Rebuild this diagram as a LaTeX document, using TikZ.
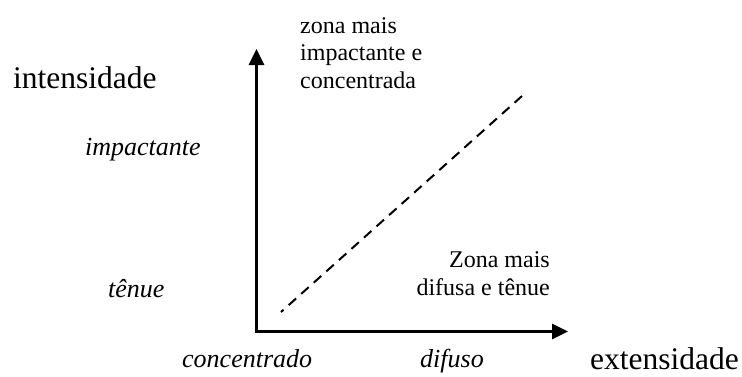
\documentclass[tikz,border=0pt]{standalone}
\usepackage{fontspec}
\setmainfont{Liberation Serif}
\usetikzlibrary{arrows.meta}
\begin{document}
\begin{tikzpicture}[x=1pt,y=-1pt,
  axis/.style={line width=2.8pt,{Triangle[length=16pt,width=15pt]}-{Triangle[length=16pt,width=15pt]}},
  diag/.style={line width=2pt,dash pattern=on 10pt off 6.85pt},
  bigl/.style={inner sep=0pt,anchor=base west,font=\fontsize{31.5}{36}\selectfont},
  itl/.style={inner sep=0pt,anchor=base west,font=\fontsize{26}{30}\selectfont\itshape},
  zone/.style={inner sep=0pt,font=\fontsize{24}{27.5}\selectfont}]
\useasboundingbox (0,0) rectangle (742,376);
\coordinate (O) at (256.5,331.5);
\coordinate (Ytip) at (256.5,49);
\coordinate (Xtip) at (568,331.5);
\draw[axis] (Ytip) -- (O) -- (Xtip);
\coordinate (D1) at (281,312);
\coordinate (D2) at (522,96);
\draw[diag] (D2) -- (D1);
\node[bigl] (int) at (13,88) {intensidade};
\node[bigl] (ext) at (590,369) {extensidade};
\node[itl] (imp) at (85,155) {impactante};
\node[itl] (ten) at (108,297) {tênue};
\node[itl] (con) at (182,367) {concentrado};
\node[itl] (dif) at (420,367) {difuso};
\node[zone,align=left,anchor=base west] (z1) at (300,88) {zona mais\\impactante e\\concentrada};
\node[zone,align=right,anchor=base east] (z2) at (550,295) {Zona mais\\difusa e tênue};
\end{tikzpicture}
\end{document}
